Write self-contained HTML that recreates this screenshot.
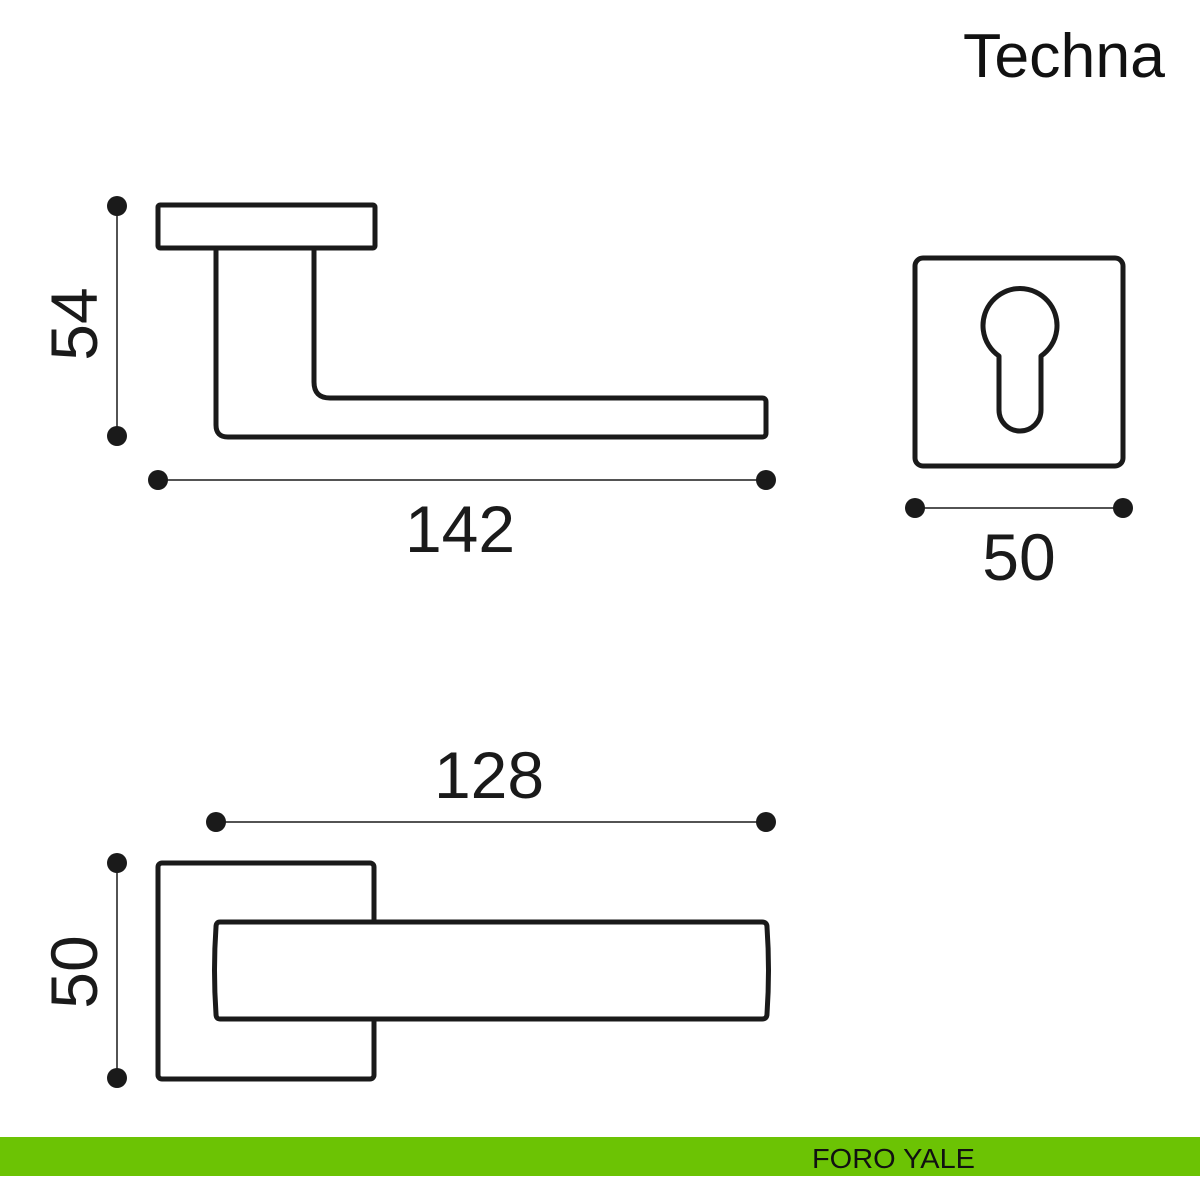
<!DOCTYPE html>
<html><head><meta charset="utf-8"><style>html,body{margin:0;padding:0;background:#fff}svg{display:block}</style></head>
<body>
<svg width="1200" height="1200" viewBox="0 0 1200 1200" xmlns="http://www.w3.org/2000/svg">
<rect width="1200" height="1200" fill="#fff"/>
<text x="963" y="77" font-family="Liberation Sans, sans-serif" font-size="62" fill="#111" textLength="202" lengthAdjust="spacingAndGlyphs">Techna</text>
<g fill="none" stroke="#1a1a1a" stroke-width="5" stroke-linejoin="round">
<rect x="158" y="205" width="217" height="43" rx="2"/>
<path d="M216 248 V425 Q216 437 228 437 H762 Q766 437 766 433 V402 Q766 398 762 398 H330 Q314 398 314 382 V248"/>
<rect x="915" y="258" width="208" height="208" rx="8"/>
<path d="M999 356 A37 37 0 1 1 1041 356 V410 A21 21 0 0 1 999 410 Z"/>
<rect x="158" y="863" width="216" height="216" rx="4"/>
<path d="M220 922 H762 Q767 922 767 927 Q770 970 767 1014 Q767 1019 762 1019 H220 Q216 1019 216 1014 Q213 970 216 927 Q216 922 220 922 Z" fill="#fff"/>
</g>
<g stroke="#1a1a1a" stroke-width="1.5">
<line x1="117" y1="206" x2="117" y2="436"/>
<line x1="158" y1="480" x2="766" y2="480"/>
<line x1="915" y1="508" x2="1123" y2="508"/>
<line x1="216" y1="822" x2="766" y2="822"/>
<line x1="117" y1="863" x2="117" y2="1078"/>
</g>
<g fill="#1a1a1a">
<circle cx="117" cy="206" r="10"/><circle cx="117" cy="436" r="10"/>
<circle cx="158" cy="480" r="10"/><circle cx="766" cy="480" r="10"/>
<circle cx="915" cy="508" r="10"/><circle cx="1123" cy="508" r="10"/>
<circle cx="216" cy="822" r="10"/><circle cx="766" cy="822" r="10"/>
<circle cx="117" cy="863" r="10"/><circle cx="117" cy="1078" r="10"/>
</g>
<g font-family="Liberation Sans, sans-serif" font-size="66" fill="#1a1a1a" text-anchor="middle">
<text x="460" y="552">142</text>
<text x="1019" y="580">50</text>
<text x="489" y="798">128</text>
<text transform="translate(97 324) rotate(-90)">54</text>
<text transform="translate(97 972) rotate(-90)">50</text>
</g>
<rect x="0" y="1137" width="1200" height="39" fill="#6cc304"/>
<text x="812" y="1168" font-family="Liberation Sans, sans-serif" font-size="28" fill="#111" textLength="163" lengthAdjust="spacingAndGlyphs">FORO YALE</text>
</svg>
</body></html>
